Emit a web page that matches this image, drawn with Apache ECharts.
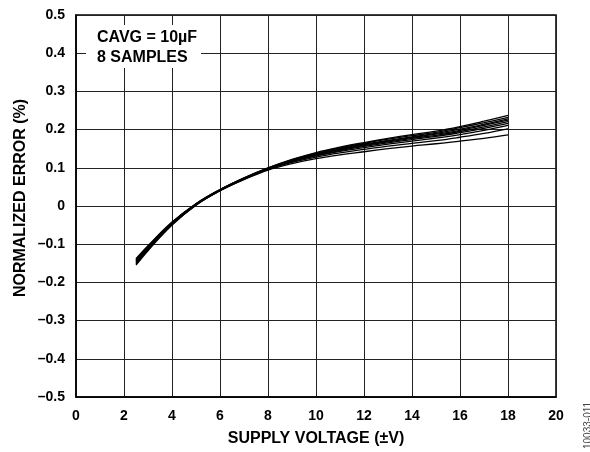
<!DOCTYPE html>
<html><head><meta charset="utf-8">
<script src="https://cdn.jsdelivr.net/npm/echarts@6/dist/echarts.min.js"></script>
<style>html,body{margin:0;padding:0;background:#fff}#c{width:590px;height:452px}</style>
</head><body><div id="c"></div>
<script>
const xValues = [2.5,3,4,5,6,7,8,9,10,11,12,13,14,15,16,17,18];
const s1 = [-0.138,-0.104,-0.042,0.006,0.043,0.074,0.100,0.122,0.140,0.154,0.166,0.177,0.187,0.196,0.208,0.222,0.237];
const s2 = [-0.140,-0.106,-0.043,0.006,0.043,0.073,0.099,0.121,0.138,0.152,0.164,0.175,0.184,0.193,0.205,0.218,0.232];
const s3 = [-0.142,-0.107,-0.044,0.005,0.042,0.073,0.099,0.120,0.137,0.150,0.162,0.172,0.181,0.190,0.201,0.214,0.228];
const s4 = [-0.144,-0.109,-0.045,0.005,0.042,0.072,0.098,0.119,0.135,0.148,0.160,0.170,0.179,0.188,0.198,0.211,0.225];
const s5 = [-0.146,-0.110,-0.046,0.004,0.042,0.072,0.098,0.118,0.134,0.147,0.158,0.168,0.177,0.185,0.195,0.207,0.221];
const s6 = [-0.148,-0.112,-0.047,0.004,0.041,0.071,0.097,0.117,0.132,0.145,0.156,0.165,0.174,0.182,0.192,0.203,0.216];
const s7 = [-0.150,-0.113,-0.048,0.003,0.041,0.071,0.097,0.116,0.131,0.143,0.153,0.162,0.170,0.178,0.187,0.198,0.211];
const s8 = [-0.152,-0.115,-0.049,0.003,0.040,0.070,0.096,0.114,0.128,0.139,0.148,0.157,0.164,0.171,0.180,0.190,0.202];
const s9 = [-0.155,-0.117,-0.050,0.002,0.040,0.069,0.094,0.111,0.124,0.134,0.142,0.150,0.157,0.163,0.170,0.177,0.186];
const allSeries = [s1,s2,s3,s4,s5,s6,s7,s8,s9];
const xTicks = [0,2,4,6,8,10,12,14,16,18,20];
const yTickLabels = {"0.5":"0.5","0.4":"0.4","0.3":"0.3","0.2":"0.2","0.1":"0.1","0":"0","-0.1":"–0.1","-0.2":"–0.2","-0.3":"–0.3","-0.4":"–0.4","-0.5":"–0.5"};
const xTitle = "SUPPLY VOLTAGE (±V)";
const yTitle = "NORMALIZED ERROR (%)";
const noteLines = ["CAVG = 10µF", "8 SAMPLES"];
const figId = "10033-011";

const FONT = "'Liberation Sans', Arial, sans-serif";
const chart = echarts.init(document.getElementById('c'), null, {renderer:'canvas'});
chart.setOption({
  animation:false,
  backgroundColor:'#fff',
  grid:{left:76, top:15, right:34, bottom:54, show:true, borderColor:'#000', borderWidth:1.5, backgroundColor:'transparent'},
  xAxis:{type:'value', min:0, max:20, interval:2,
    axisLine:{show:true, onZero:false, lineStyle:{color:'#000', width:1.5}}, axisTick:{show:false},
    splitLine:{show:true, lineStyle:{color:'#222', width:1}},
    axisLabel:{color:'#000', fontFamily:FONT, fontWeight:'bold', fontSize:14, margin:12,
      formatter:v=>xTicks.includes(v)?String(v):''},
    name:xTitle, nameLocation:'middle', nameGap:34,
    nameTextStyle:{color:'#000', fontFamily:FONT, fontWeight:'bold', fontSize:16}},
  yAxis:{type:'value', min:-0.5, max:0.5, interval:0.1,
    axisLine:{show:true, onZero:false, lineStyle:{color:'#000', width:1.5}}, axisTick:{show:false},
    splitLine:{show:true, lineStyle:{color:'#222', width:1}},
    axisLabel:{color:'#000', fontFamily:FONT, fontWeight:'bold', fontSize:14, margin:11,
      formatter:v=>{const k=String(Math.round(v*10)/10); return yTickLabels[k]!==undefined?yTickLabels[k]:k;}}},
  series: allSeries.map((s,i)=>({type:'line', smooth:0.4, symbol:'none', z:3,
    data: xValues.map((x,j)=>[x,s[j]]),
    lineStyle:{color:'#000', width:1.3}})),
  graphic:[
    {type:'text', x:21, y:198, rotation:Math.PI/2, z:11, style:{text:yTitle, fill:'#000', font:"bold 16px 'Liberation Sans', Arial, sans-serif", align:'center', verticalAlign:'middle'}},
    {type:'rect', left:86, top:25, shape:{width:115, height:43}, style:{fill:'#fff'}, z:10},
    {type:'text', left:97, top:30, z:11, style:{text:noteLines[0], fill:'#000', font:"bold 16px 'Liberation Sans', Arial, sans-serif"}},
    {type:'text', left:97, top:50, z:11, style:{text:noteLines[1], fill:'#000', font:"bold 16px 'Liberation Sans', Arial, sans-serif"}},
    {type:'text', x:588, y:449, rotation:Math.PI/2, z:11, style:{text:figId, fill:'#444', font:"10px 'Liberation Sans', Arial, sans-serif", align:'left', verticalAlign:'middle'}}
  ]
});
</script></body></html>
